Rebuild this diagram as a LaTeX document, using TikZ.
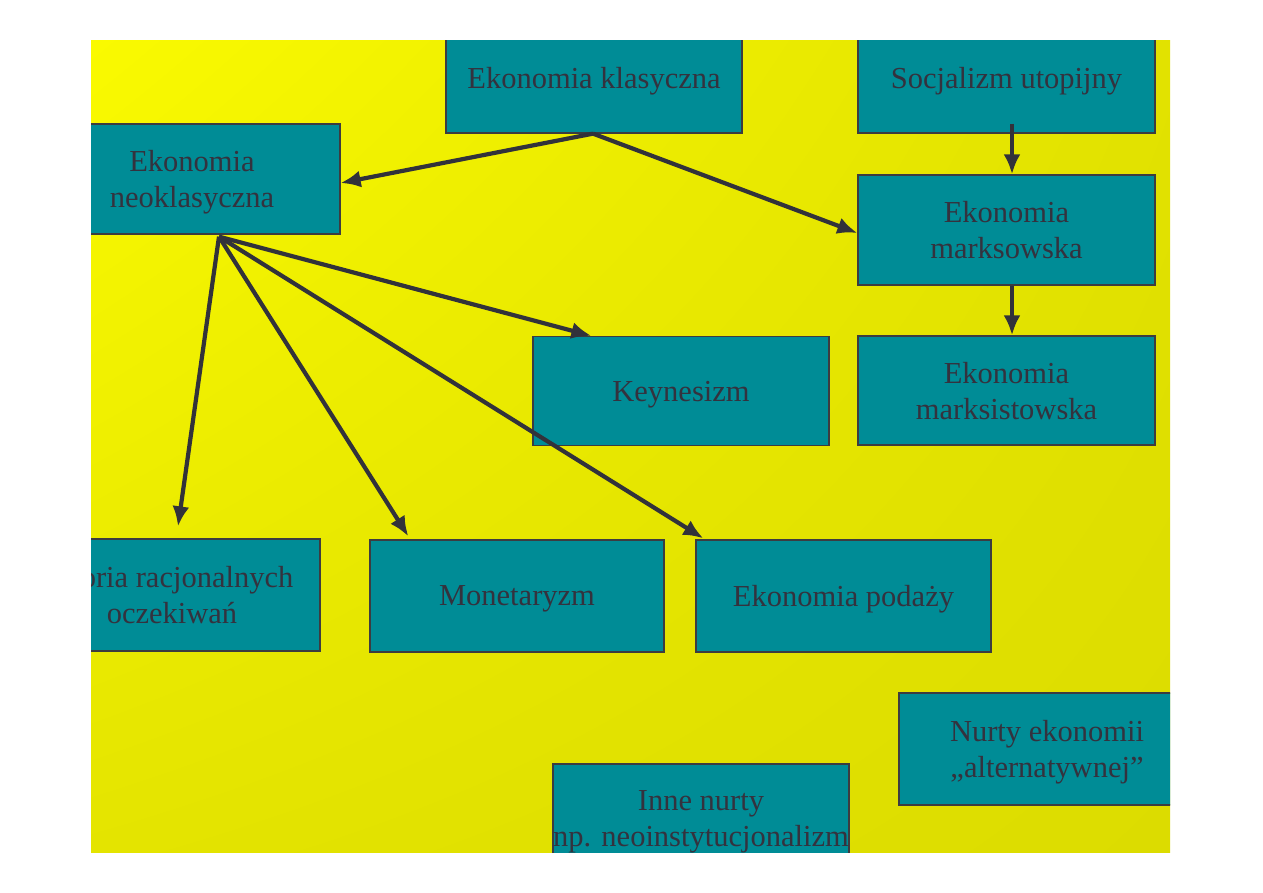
\documentclass[tikz,border=0pt]{standalone}
\usepackage{fontspec}
\setmainfont{Liberation Serif}
\usetikzlibrary{arrows.meta,calc,shadings}
\definecolor{boxteal}{RGB}{0,140,150}
\definecolor{boxedge}{RGB}{60,60,64}
\definecolor{txt}{RGB}{52,50,62}
\definecolor{arr}{RGB}{50,50,58}
\definecolor{yA}{RGB}{250,250,0}
\definecolor{yB}{RGB}{226,226,0}
\definecolor{yC}{RGB}{228,228,0}
\definecolor{yD}{RGB}{220,220,0}
\tikzset{
  box/.style={draw=boxedge, line width=1.3pt, fill=boxteal, text=txt,
    minimum width=296pt, minimum height=110pt, inner sep=0pt, text depth=0pt,
    align=center, font=\fontsize{30.5}{36}\selectfont},
  link/.style={draw=arr, line width=4.2pt, -{Latex[length=20pt,width=17pt]}}
}
\begin{document}
\begin{tikzpicture}[x=1pt,y=-1pt]
\useasboundingbox (0,0) rectangle (1263,893);
\fill[white] (0,0) rectangle (1263,893);
\shade[upper left=yA, upper right=yB, lower left=yC, lower right=yD] (91,41) rectangle (1170,852);
\begin{scope}
\clip (91,41) rectangle (1170,852);
\node[box] (klas) at (594,78) {Ekonomia klasyczna};
\node[box, minimum width=297pt] (soc) at (1006.5,78) {Socjalizm utopijny};
\node[box] (neo) at (192,179) {Ekonomia\\neoklasyczna};
\node[box, minimum width=297pt] (marks) at (1006.5,230) {Ekonomia\\marksowska};
\node[box, minimum height=109pt] (keyn) at (681,391) {Keynesizm};
\node[box, minimum width=297pt, minimum height=109pt] (marksist) at (1006.5,390.5) {Ekonomia\\marksistowska};
\node[box, minimum height=112pt] (teoria) at (172,595) {Teoria racjonalnych\\oczekiwań};
\node[box, minimum width=294pt, minimum height=112pt] (monet) at (517,596) {Monetaryzm};
\node[box, minimum width=295pt, minimum height=112pt] (podaz) at (843.5,596) {Ekonomia podaży};
\node[box, minimum height=112pt] (nurty) at (1047,749) {Nurty ekonomii\\„alternatywnej”};
\node[box] (inne) at (701,819) {Inne nurty\\np. neoinstytucjonalizm};

\coordinate (hub) at ($(neo.south)+(27,2)$);
\coordinate (klasout) at ($(klas.south)+(-1,0)$);

\draw[link] (klasout) -- ($(neo.east)+(0,4)$);
\draw[link] (klasout) -- ($(marks.west)+(0,3)$);
\draw[link] ($(soc.south)+(5.5,-10)$) -- ($(marks.north)+(5.5,0)$);
\draw[link] ($(marks.south)+(5.5,0)$) -- ($(marksist.north)+(5.5,0)$);
\draw[link] (hub) -- ($(keyn.north west)+(59,0)$);
\draw[link] (hub) -- ($(teoria.north)+(6,-12)$);
\draw[link] (hub) -- ($(monet.north west)+(39,-3)$);
\draw[link] (hub) -- ($(podaz.north west)+(8,-1)$);
\end{scope}
\end{tikzpicture}
\end{document}
